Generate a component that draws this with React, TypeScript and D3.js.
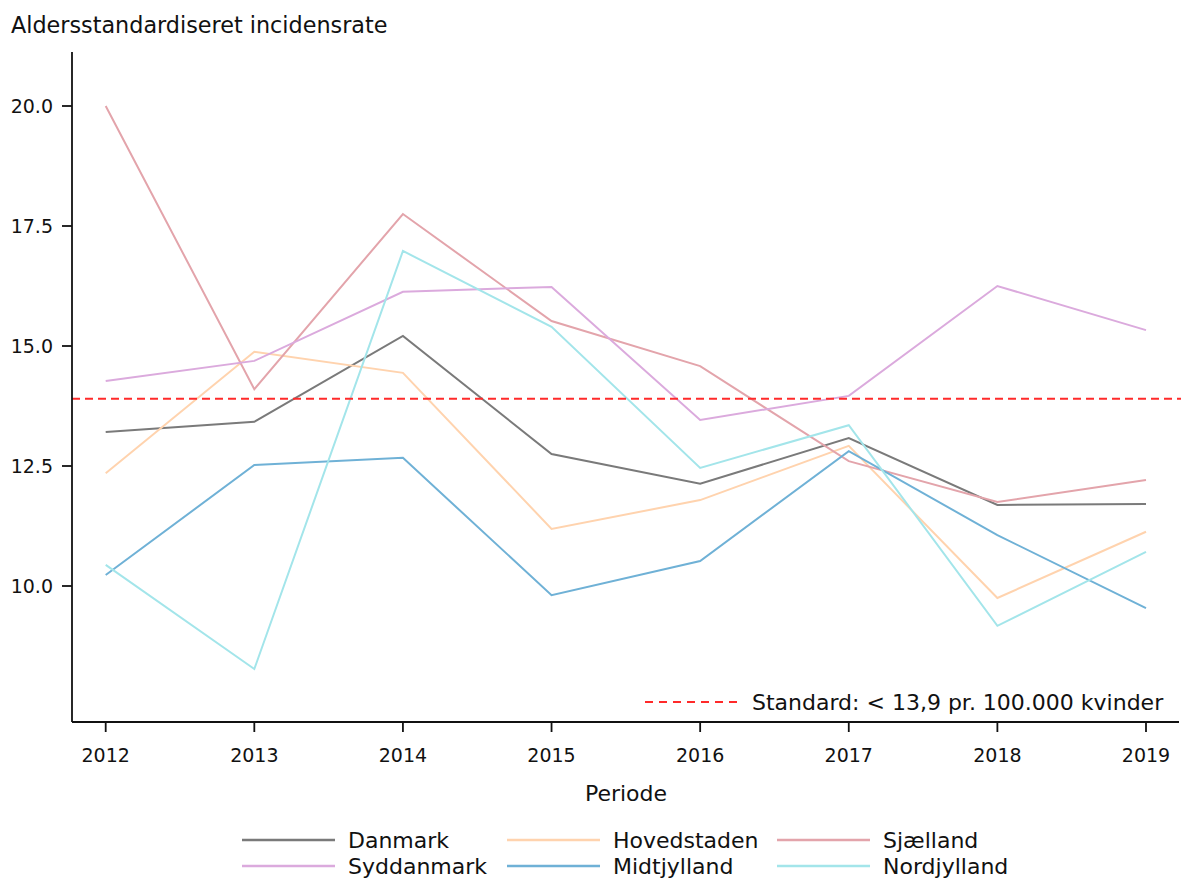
import React from "react";
import * as d3 from "d3";

const years = [2012, 2013, 2014, 2015, 2016, 2017, 2018, 2019];
const danmark = [13.21, 13.42, 15.21, 12.75, 12.13, 13.08, 11.69, 11.71];
const hovedstaden = [12.35, 14.88, 14.44, 11.19, 11.79, 12.92, 9.75, 11.13];
const sjaelland = [20.0, 14.1, 17.75, 15.52, 14.58, 12.6, 11.75, 12.21];
const syddanmark = [14.27, 14.69, 16.13, 16.23, 13.46, 13.96, 16.25, 15.33];
const midtjylland = [10.23, 12.52, 12.67, 9.81, 10.52, 12.81, 11.06, 9.54];
const nordjylland = [10.44, 8.27, 16.98, 15.4, 12.46, 13.35, 9.17, 10.71];
const yTicks = [10, 12.5, 15, 17.5, 20];
const standard = 13.9;

const series = [
  { name: "Danmark", values: danmark, color: "#7a7a7a" },
  { name: "Hovedstaden", values: hovedstaden, color: "#ffd3ae" },
  { name: "Sjælland", values: sjaelland, color: "#e3a4ab" },
  { name: "Syddanmark", values: syddanmark, color: "#dbaadd" },
  { name: "Midtjylland", values: midtjylland, color: "#6fb1d6" },
  { name: "Nordjylland", values: nordjylland, color: "#a3e5ea" },
];

const FONT = "DejaVu Sans, sans-serif";

export default function App() {
  const x = d3.scaleLinear().domain([2012, 2019]).range([105.7, 1146]);
  const y = d3.scaleLinear().domain([10, 20]).range([586, 106]);
  const left = 72, right = 1179, top = 52, bottom = 722;
  const line = d3
    .line<number>()
    .x((_, i) => x(years[i]))
    .y((d) => y(d));

  const legendCols = [242, 507, 777];
  const legendRows = [840, 866];

  return (
    <svg
      width={1181}
      height={879}
      style={{ position: "absolute", left: 0, top: 0, background: "#fff" }}
      fontFamily={FONT}
    >
      <rect width={1181} height={879} fill="#fff" />
      <text x={11} y={33} fontSize={22.3} fill="#111">
        Aldersstandardiseret incidensrate
      </text>

      {series.map((s) => (
        <path key={s.name} d={line(s.values) || ""} fill="none" stroke={s.color} strokeWidth={2} />
      ))}

      <line
        x1={left}
        x2={1181}
        y1={y(standard)}
        y2={y(standard)}
        stroke="#ff2a2a"
        strokeWidth={2}
        strokeDasharray="8,5"
      />

      {/* axes */}
      <line x1={left} x2={left} y1={top} y2={bottom} stroke="#111" strokeWidth={1.8} />
      <line x1={left} x2={right} y1={bottom} y2={bottom} stroke="#111" strokeWidth={1.8} />
      {yTicks.map((t) => (
        <g key={t}>
          <line x1={left - 10} x2={left} y1={y(t)} y2={y(t)} stroke="#111" strokeWidth={1.8} />
          <text x={53} y={y(t)} dy="0.35em" textAnchor="end" fontSize={19} fill="#111">
            {d3.format(".1f")(t)}
          </text>
        </g>
      ))}
      {years.map((yr) => (
        <g key={yr}>
          <line x1={x(yr)} x2={x(yr)} y1={bottom} y2={bottom + 10} stroke="#111" strokeWidth={1.8} />
          <text x={x(yr)} y={762} textAnchor="middle" fontSize={19} fill="#111">
            {yr}
          </text>
        </g>
      ))}
      <text x={626} y={801} textAnchor="middle" fontSize={22} fill="#111">
        Periode
      </text>

      {/* inner legend */}
      <line x1={645} x2={740} y1={702} y2={702} stroke="#ff2a2a" strokeWidth={2} strokeDasharray="8,6" />
      <text x={752} y={702} dy="0.35em" fontSize={22} fill="#111">
        Standard: &lt; 13,9 pr. 100.000 kvinder
      </text>

      {/* bottom legend */}
      {series.map((s, i) => {
        const cx = legendCols[i % 3];
        const cy = legendRows[Math.floor(i / 3)];
        return (
          <g key={s.name}>
            <line x1={cx} x2={cx + 93} y1={cy} y2={cy} stroke={s.color} strokeWidth={2.5} />
            <text x={cx + 106} y={cy} dy="0.35em" fontSize={22} fill="#111">
              {s.name}
            </text>
          </g>
        );
      })}
    </svg>
  );
}
